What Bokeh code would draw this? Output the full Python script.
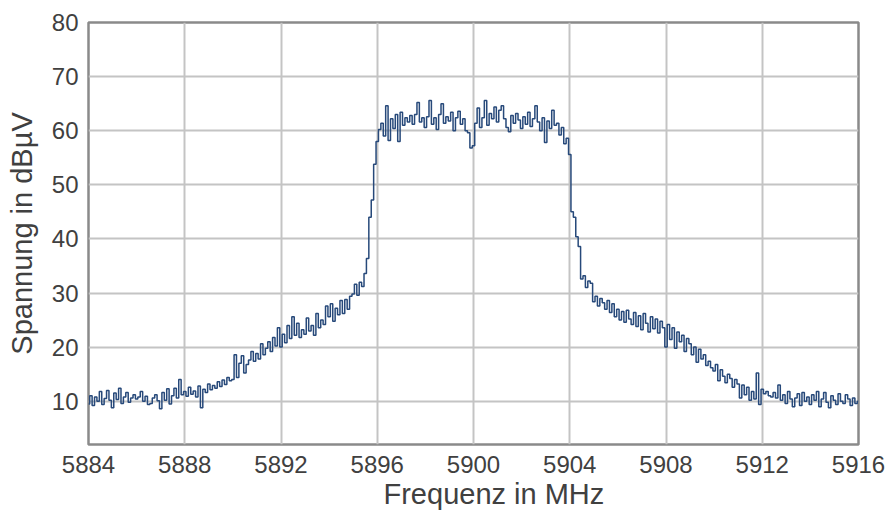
import numpy as np
from bokeh.plotting import figure
from bokeh.models import FixedTicker, Range1d, Title
from bokeh.embed import file_html
from bokeh.resources import INLINE

# Frequency axis (MHz): samples every 0.1 MHz from 5884 to 5916
F_START = 5884.0
F_STEP = 0.1

floor_left = [
    9.5, 11.0, 9.2, 10.8, 10.0, 11.8, 9.4, 10.5, 12.0, 10.2,
    8.8, 11.5, 10.3, 12.4, 9.6, 10.8, 11.6, 9.8, 10.6, 11.2,
    10.4, 10.8, 11.8, 10.0, 10.9, 9.4, 9.6, 10.6, 11.2, 10.1,
    8.6, 11.6, 10.2, 12.3, 9.5, 11.0, 12.4, 10.6, 14.0, 11.2,
    11.8, 10.9, 12.6, 11.3, 11.9, 10.8, 12.8, 8.8, 12.2, 11.6,
    13.2, 12.1, 12.9, 12.4, 13.6, 12.7, 13.9, 13.1, 14.4, 13.8,
]
flank_left = [
    14.0, 18.6, 14.4, 17.0, 18.4, 15.2, 16.8, 17.6, 19.2, 17.4,
    18.8, 17.8, 20.6, 18.6, 19.8, 21.0, 19.2, 21.8, 20.2, 23.6,
    20.0, 22.4, 20.8, 24.0, 21.6, 25.6, 22.2, 24.4, 21.8, 23.2,
    22.4, 25.4, 23.0, 24.0, 22.2, 26.2, 23.6, 25.0, 24.2, 27.6,
    25.6, 28.0, 24.8, 27.2, 26.0, 28.6, 26.2, 28.8, 27.0, 29.4,
    29.8, 31.6, 29.6, 32.0, 31.2, 33.6, 36.4, 44.0, 47.2, 53.8,
]
plateau = [
    58.0, 60.2, 61.4, 59.0, 64.6, 58.2, 62.2, 60.4, 63.0, 58.0,
    63.4, 61.0, 62.4, 61.6, 62.8, 61.2, 63.0, 65.2, 61.6, 62.4,
    60.6, 62.6, 65.6, 61.2, 62.4, 60.2, 63.0, 65.0, 61.4, 62.6,
    61.8, 63.4, 60.0, 62.4, 63.6, 61.2, 62.2, 60.0, 59.6, 56.8,
    57.2, 61.4, 64.2, 60.6, 62.4, 65.6, 61.0, 63.2, 62.2, 64.4,
    61.6, 63.8, 64.6, 62.2, 60.6, 59.8, 62.8, 61.4, 63.2, 62.0,
    60.4, 62.6, 61.2, 63.4, 60.8, 62.2, 64.6, 61.6, 60.0, 62.4,
    57.8, 61.8, 60.4, 63.8, 61.0, 61.4, 59.2, 60.6, 57.6, 58.6,
]
flank_right = [
    55.6, 45.0, 44.0, 40.4, 38.6, 32.6, 33.2, 31.0, 32.2, 31.8,
    28.4, 29.4, 27.6, 29.0, 28.2, 27.0, 28.6, 26.4, 28.0, 25.6,
    27.0, 25.0, 26.6, 24.6, 26.8, 25.2, 24.2, 26.4, 23.8, 25.8,
    23.2, 26.2, 24.4, 22.8, 25.6, 23.4, 25.2, 22.6, 24.8, 23.6,
    20.0, 24.2, 21.4, 23.6, 19.8, 22.8, 21.0, 22.2, 19.2, 21.6,
    20.6, 18.6, 20.0, 17.2, 19.6, 17.8, 18.6, 16.6, 17.4, 16.2,
    15.6, 16.8, 13.8, 15.8, 14.6, 13.4, 15.0, 14.2, 12.6, 14.0,
    13.2, 10.6, 13.0, 11.2, 12.6, 10.2, 11.8, 10.4, 15.2, 9.4,
]
floor_right = [
    12.2, 11.4, 11.8, 11.0, 10.8, 11.6, 10.6, 13.0, 10.2, 11.2,
    9.6, 11.8, 10.4, 9.0, 10.6, 11.4, 9.2, 11.6, 10.0, 10.8,
    9.4, 11.2, 10.2, 11.8, 9.0, 10.4, 11.6, 9.8, 8.8, 11.0,
    10.2, 9.4, 11.4, 10.0, 9.6, 11.2, 10.4, 9.2, 10.6, 9.6,
    10.0,
]

x_ticks = [5884, 5888, 5892, 5896, 5900, 5904, 5908, 5912, 5916]
y_ticks = [10, 20, 30, 40, 50, 60, 70, 80]
x_title = "Frequenz in MHz"
y_title = "Spannung in dBµV"

level = floor_left + flank_left + plateau + flank_right + floor_right
freq = F_START + F_STEP * np.arange(len(level))

TXT = "#404040"
FONT = "Liberation Sans"

p = figure(width=887, height=510, output_backend="svg", toolbar_location=None,
           x_range=Range1d(5884, 5916), y_range=Range1d(2, 80),
           min_border_left=88, min_border_right=29, min_border_top=22,
           min_border_bottom=66)

p.step(freq, level, mode="center", line_color="#27497a", line_width=1.5)

p.background_fill_color = "white"
p.border_fill_color = "white"
p.outline_line_color = "#8a8a8a"
p.outline_line_width = 2.5

for g in (p.xgrid, p.ygrid):
    g.grid_line_color = "#c4c4c4"
    g.grid_line_width = 2
p.xgrid.ticker = FixedTicker(ticks=x_ticks)
p.ygrid.ticker = FixedTicker(ticks=y_ticks)

p.xaxis.ticker = FixedTicker(ticks=x_ticks)
p.yaxis.ticker = FixedTicker(ticks=y_ticks)

for ax in (p.xaxis[0], p.yaxis[0]):
    ax.axis_line_color = None
    ax.major_tick_line_color = None
    ax.minor_tick_line_color = None
    ax.major_tick_in = 0
    ax.major_tick_out = 0
    ax.minor_tick_in = 0
    ax.minor_tick_out = 0
    ax.major_label_text_font = FONT
    ax.major_label_text_font_size = "24px"
    ax.major_label_text_color = TXT
    ax.axis_label_text_font = FONT
    ax.axis_label_text_font_size = "29px"
    ax.axis_label_text_font_style = "normal"
    ax.axis_label_text_color = TXT

p.yaxis.axis_label = y_title
p.xaxis.major_label_standoff = 11
p.yaxis.major_label_standoff = 10
p.yaxis.axis_label_standoff = 11

# x-axis title: placed right of centre, as in the reference
p.add_layout(Title(text=x_title, align="left", offset=295, standoff=0,
                   text_font=FONT, text_font_size="29px",
                   text_font_style="normal", text_color=TXT), "below")

open("out.html", "w").write(file_html(p, INLINE))
